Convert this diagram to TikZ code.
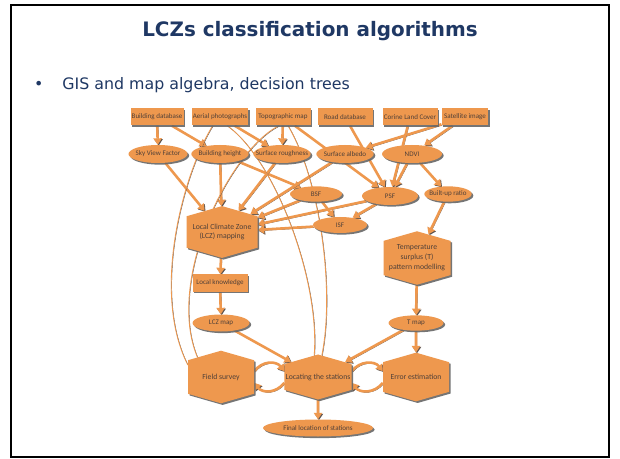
\documentclass[tikz,border=0pt]{standalone}
\usepackage{fontspec}
\setmainfont{Carlito}
\newfontfamily\slidefont{DejaVu Sans}
\usetikzlibrary{shapes.geometric, shapes.symbols, arrows.meta, positioning, backgrounds, shadows}
\definecolor{lczorange}{RGB}{238,152,78}
\definecolor{lcztext}{RGB}{80,64,56}
\definecolor{slideblue}{RGB}{31,56,100}
\definecolor{edgeshade}{RGB}{95,85,80}

\begin{document}
\begin{tikzpicture}[
        x=0.03cm, y=-0.03cm,
        font=\fontsize{6}{7}\selectfont,
        castshadow/.style={drop shadow={shadow xshift=1.4pt, shadow yshift=-1.4pt, fill=black!60, opacity=.9}},
        srcbox/.style={rectangle, fill=lczorange, text=lcztext, castshadow, minimum width=1.65cm, minimum height=0.51cm, inner sep=1pt},
        bubble/.style={ellipse, fill=lczorange, text=lcztext, castshadow, minimum width=1.72cm, minimum height=0.54cm, inner xsep=-1em, inner ysep=0pt},
        hexstep/.style={signal, signal to=north and south, signal pointer angle=148, fill=lczorange, text=lcztext, castshadow, align=center, font=\fontsize{6.6}{8.5}\selectfont, minimum width=1.98cm, minimum height=1.35cm, inner sep=1pt},
        flow/.style={line width=2.2pt, draw=lczorange, -{Triangle[length=5.5pt, width=7pt]}, preaction={draw=edgeshade, transform canvas={shift={(0.8pt,-0.8pt)}}}},
        thinflow/.style={line width=0.7pt, draw=lczorange, preaction={draw=edgeshade, transform canvas={shift={(0.4pt,-0.4pt)}}}}
    ]
        \useasboundingbox (0,0) rectangle (620,459);
        \begin{scope}[on background layer]
            \fill[white] (0,0) rectangle (620,459);
        \end{scope}
        \draw[line width=1.6pt] (11,5) rectangle (609,457);

        % slide heading
        \node[font=\slidefont\bfseries\fontsize{17}{20}\selectfont, text=slideblue] (title) at (310,31) {LCZs classification algorithms};
        \node[font=\slidefont\fontsize{13.5}{16}\selectfont, text=slideblue, anchor=west] (bullet) at (30,85) {\textbullet\hspace{1.2em}GIS and map algebra, decision trees};

        % input data
        \node[srcbox, minimum width=1.59cm] (bdb) at (157,117) {Building database};
        \node[srcbox] (aer) at (220,117) {Aerial photographs};
        \node[srcbox] (topo) at (283,117) {Topographic map};
        \node[srcbox] (road) at (345,117) {Road database};
        \node[srcbox] (clc) at (410,117) {Corine Land Cover};
        \node[srcbox, minimum width=1.4cm] (sat) at (465,117) {Satellite image};

        % derived parameters
        \node[bubble, minimum width=1.77cm] (svf) at (158,154) {Sky View Factor};
        \node[bubble] (bh) at (220,154) {Building height};
        \node[bubble] (sr) at (282,154) {Surface roughness};
        \node[bubble] (sa) at (345,154) {Surface albedo};
        \node[bubble, minimum width=1.8cm] (ndvi) at (412,154) {NDVI};
        \node[bubble, minimum width=1.56cm, minimum height=0.46cm] (bsf) at (316,194) {BSF};
        \node[bubble, minimum width=1.68cm] (psf) at (390,196) {PSF};
        \node[bubble, minimum width=1.42cm, minimum height=0.46cm] (bur) at (448,194) {Built-up ratio};
        \node[bubble, minimum width=1.62cm, minimum height=0.48cm] (isf) at (340,225) {ISF};

        % mapping and modelling
        \node[hexstep, minimum width=2.13cm, minimum height=1.47cm] (lcz) at (222,232) {Local Climate Zone\\(LCZ) mapping};
        \node[hexstep, minimum width=2.01cm, minimum height=1.53cm] (temp) at (417,258) {Temperature\\surplus (T)\\pattern modelling};
        \node[srcbox] (lk) at (220,283) {Local knowledge};
        \node[bubble, minimum width=1.71cm, minimum height=0.51cm] (lczmap) at (221,323) {LCZ map};
        \node[bubble, minimum width=1.65cm, minimum height=0.46cm] (tmap) at (416,323) {T map};

        % station network
        \node[hexstep] (fs) at (221,377) {Field survey};
        \node[hexstep, minimum width=2.01cm] (loc) at (318,377) {Locating the stations};
        \node[hexstep] (err) at (416,377) {Error estimation};
        \node[bubble, minimum width=3.3cm, minimum height=0.51cm] (final) at (318,428) {Final location of stations};

        \begin{scope}[on background layer]
            \draw[flow] (bdb) -- (svf);
            \draw[flow] (bdb) -- (bh);
            \draw[flow] (bh) -- (bsf);
            \draw[flow] (aer) -- (sr);
            \draw[flow] (topo) -- (sr);
            \draw[flow] (topo) -- (psf);
            \draw[flow] (road) -- (psf);
            \draw[flow] (sat) -- (sa);
            \draw[flow] (sat) -- (ndvi);
            \draw[flow] (clc) -- (psf);
            \draw[flow] (ndvi) -- (psf);
            \draw[flow] (ndvi) -- (bur);
            \draw[flow] (svf) -- (lcz);
            \draw[flow] (bh) -- (lcz);
            \draw[flow] (sr) -- (lcz);
            \draw[flow] (sa) -- (lcz);
            \draw[flow] (bsf) -- (lcz);
            \draw[flow] (psf) -- (lcz);
            \draw[flow] (isf) -- (lcz);
            \draw[flow] (bsf) -- (isf);
            \draw[flow] (psf) -- (isf);
            \draw[flow] (bur) -- (temp);
            \draw[flow] (lcz) -- (lk);
            \draw[flow] (lk) -- (lczmap);
            \draw[flow] (lczmap) -- (loc);
            \draw[flow] (temp) -- (tmap);
            \draw[flow] (tmap) -- (loc);
            \draw[flow] (tmap) -- (err);
            \draw[flow] (loc) -- (final);
            % feedback loops
            \draw[flow] ([yshift=5pt]fs.east) .. controls ([xshift=7pt, yshift=14pt]fs.east) and ([xshift=-7pt, yshift=14pt]loc.west) .. ([yshift=5pt]loc.west);
            \draw[flow] ([yshift=-5pt]loc.west) .. controls ([xshift=-7pt, yshift=-14pt]loc.west) and ([xshift=7pt, yshift=-14pt]fs.east) .. ([yshift=-5pt]fs.east);
            \draw[flow] ([yshift=5pt]loc.east) .. controls ([xshift=7pt, yshift=14pt]loc.east) and ([xshift=-7pt, yshift=14pt]err.west) .. ([yshift=5pt]err.west);
            \draw[flow] ([yshift=-5pt]err.west) .. controls ([xshift=-7pt, yshift=-14pt]err.west) and ([xshift=7pt, yshift=-14pt]loc.east) .. ([yshift=-5pt]loc.east);
            % maps used in the field
            \draw[thinflow] (aer.230) .. controls (185,170) and (150,290) .. (fs.160);
            \draw[thinflow] (topo.245) .. controls (230,150) and (165,280) .. (fs.140);
            \draw[thinflow] (aer.310) .. controls (275,160) and (320,280) .. (loc.100);
            \draw[thinflow] (topo.300) .. controls (320,180) and (335,290) .. (loc.80);
        \end{scope}
    \end{tikzpicture}
\end{document}
